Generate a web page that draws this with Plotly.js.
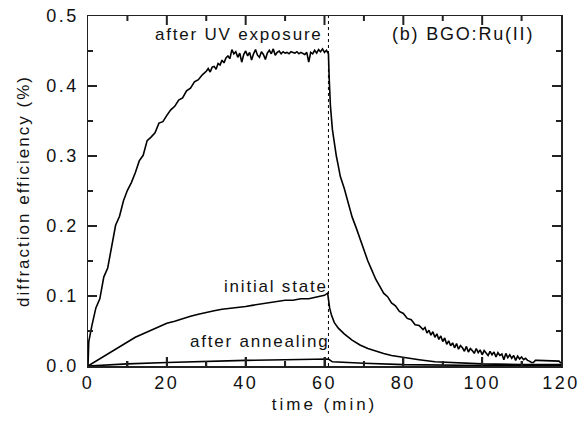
<!DOCTYPE html>
<html>
<head>
<meta charset="utf-8">
<script src="https://cdn.plot.ly/plotly-3.0.1.min.js"></script>
<style>
html,body{margin:0;padding:0;background:#fff;}
.xtick text,.ytick text{letter-spacing:2.5px;}
text.xtitle{letter-spacing:3px;}
text.ytitle{letter-spacing:2px;}
text.annotation-text{letter-spacing:1.8px;}
</style>
</head>
<body>
<div id="chart" style="width:584px;height:421px;"></div>
<script>
// after UV exposure
const tUV = [0,0.2,1,2,3,4,5,6,7,8,9,10,11,12,13,14,15,16,17,18,19,20,21,22,23,24,25,26,27,28,29,
  30,30.5,31,31.5,32,32.5,33,33.5,34,34.5,35,35.5,36,36.5,37,37.5,38,38.5,39,39.5,40,40.5,41,41.5,42,42.5,43,43.5,44,44.5,
  45,45.5,46,46.5,47,47.5,48,48.5,49,49.5,50,50.5,51,51.5,52,52.5,53,53.5,54,54.5,55,55.5,56,56.5,57,57.5,58,58.5,59,59.5,60,60.5,61,
  61.2,61.5,62,62.5,63,63.5,64,65,66,67,68,69,70,71,72,73,74,75,76,77,78,79,80,81,82,83,84,
  85,85.5,86,86.5,87,87.5,88,88.5,89,89.5,90,90.5,91,91.5,92,92.5,93,93.5,94,94.5,95,95.5,96,96.5,97,97.5,98,98.5,99,99.5,
  100,100.5,101,101.5,102,102.5,103,103.5,104,104.5,105,105.5,106,106.5,107,107.5,108,108.5,109,109.5,110,110.5,111,111.5,112,112.5,113,113.5,
  114,115,116,117,118,119,119.5,120];
const vUV = [0.000,0.035,0.058,0.083,0.096,0.127,0.140,0.168,0.201,0.214,0.236,0.251,0.262,0.276,0.293,0.301,0.322,0.327,0.333,0.347,0.349,0.358,0.366,0.371,0.380,0.383,0.393,0.397,0.406,0.409,0.416,
  0.421,0.425,0.420,0.427,0.428,0.424,0.432,0.430,0.437,0.433,0.440,0.443,0.439,0.452,0.446,0.449,0.441,0.447,0.434,0.445,0.450,0.443,0.448,0.437,0.446,0.452,0.444,0.441,0.449,0.445,
  0.438,0.447,0.451,0.446,0.453,0.444,0.448,0.450,0.446,0.449,0.447,0.448,0.446,0.449,0.448,0.447,0.449,0.446,0.448,0.447,0.445,0.448,0.434,0.448,0.446,0.451,0.447,0.452,0.449,0.453,0.448,0.451,0.446,
  0.410,0.372,0.338,0.318,0.300,0.286,0.271,0.254,0.232,0.213,0.198,0.181,0.166,0.150,0.137,0.124,0.114,0.104,0.099,0.090,0.086,0.078,0.075,0.068,0.066,0.059,0.058,
  0.052,0.055,0.047,0.051,0.044,0.049,0.041,0.046,0.038,0.043,0.035,0.040,0.031,0.036,0.029,0.033,0.026,0.032,0.024,0.029,0.026,0.021,0.028,0.020,0.025,0.022,0.018,0.025,0.019,0.023,
  0.016,0.022,0.018,0.015,0.021,0.016,0.020,0.013,0.019,0.015,0.017,0.009,0.018,0.012,0.016,0.011,0.015,0.008,0.014,0.010,0.013,0.009,0.011,0.008,0.007,0.005,0.005,0.008,
  0.008,0.008,0.008,0.008,0.008,0.008,0.007,0.004];

// initial state
const tInit = [0,2,4,6,8,10,12,14,16,18,20,22,24,26,28,30,32,34,36,38,40,42,44,46,48,50,52,54,56,58,60,60.8,
  61,61.3,61.8,62.5,63.5,65,67,69,71,73,75,77,80,84,88,92,96,100,110,120];
const vInit = [0.000,0.007,0.014,0.021,0.028,0.035,0.041,0.046,0.051,0.056,0.061,0.064,0.068,0.071,0.074,0.077,0.079,0.081,0.082,0.084,0.085,0.087,0.089,0.090,0.093,0.094,0.094,0.096,0.096,0.099,0.101,0.104,
  0.094,0.083,0.072,0.062,0.054,0.046,0.037,0.030,0.025,0.021,0.018,0.015,0.012,0.009,0.006,0.005,0.004,0.003,0.002,0.002];

// after annealing
const tAnn = [0,5,10,20,30,40,50,60,61,62,65,70,80,90,100,120];
const vAnn = [0.000,0.002,0.003,0.005,0.007,0.008,0.009,0.0095,0.010,0.006,0.005,0.004,0.002,0.001,0.0007,0.0005];

const exposureEnd = 61;
const xRange = [0,120];
const yRange = [0,0.5];
const xMajorTicks = [20,40,60,80,100];
const xMinorTicks = [10,30,50,70,90,110];
const yMajorTicks = [0.1,0.2,0.3,0.4];
const yMinorTicks = [0.05,0.15,0.25,0.35,0.45];
const labels = ['after UV exposure','initial state','after annealing','(b) BGO:Ru(II)'];

const fam = 'Liberation Sans, Arial, sans-serif';
const font = {family:fam, size:17, color:'#111'};
const bigFont = {family:fam, size:18, color:'#111'};
const tickFont = {family:fam, size:18, color:'#111'};
const line = {color:'#000', width:1.6};
const tickLine = {color:'#222', width:2};
const MAJ = 9, MIN = 5;

const traces = [
  {x:tUV, y:vUV, mode:'lines', line:line, hoverinfo:'skip'},
  {x:tInit, y:vInit, mode:'lines', line:line, hoverinfo:'skip'},
  {x:tAnn, y:vAnn, mode:'lines', line:line, hoverinfo:'skip'}
];

// inside tick marks on the top and right sides (and a fallback on bottom/left), placed through the axes
const tickShapes = [];
function xTicks(vals, len){
  vals.forEach(v => {
    tickShapes.push({type:'line', layer:'above', xref:'x', yref:'paper', ysizemode:'pixel', yanchor:0, x0:v, x1:v, y0:0, y1:len, line:tickLine});
    tickShapes.push({type:'line', layer:'above', xref:'x', yref:'paper', ysizemode:'pixel', yanchor:1, x0:v, x1:v, y0:0, y1:-len, line:tickLine});
  });
}
function yTicks(vals, len){
  vals.forEach(v => {
    tickShapes.push({type:'line', layer:'above', yref:'y', xref:'paper', xsizemode:'pixel', xanchor:0, y0:v, y1:v, x0:0, x1:len, line:tickLine});
    tickShapes.push({type:'line', layer:'above', yref:'y', xref:'paper', xsizemode:'pixel', xanchor:1, y0:v, y1:v, x0:0, x1:-len, line:tickLine});
  });
}
xTicks(xMajorTicks, MAJ); xTicks(xMinorTicks, MIN);
yTicks(yMajorTicks, MAJ); yTicks(yMinorTicks, MIN);

const layout = {
  width:584, height:421,
  margin:{l:88, r:23, t:16, b:55},
  showlegend:false,
  paper_bgcolor:'#fff', plot_bgcolor:'#fff',
  font:font,
  xaxis:{
    range:xRange, dtick:20,
    ticks:'inside', ticklen:MAJ, tickwidth:2, tickcolor:'#222',
    minor:{ticks:'inside', ticklen:MIN, tickwidth:2, tickcolor:'#222', dtick:10},
    showline:true, linecolor:'#222', linewidth:1.5, mirror:true,
    showgrid:false, zeroline:false, tickfont:tickFont,
    title:{text:'time (min)', font:font, standoff:6}
  },
  yaxis:{
    range:yRange, dtick:0.1, tickformat:'.1f',
    ticks:'inside', ticklen:MAJ, tickwidth:2, tickcolor:'#222',
    minor:{ticks:'inside', ticklen:MIN, tickwidth:2, tickcolor:'#222', dtick:0.05},
    showline:true, linecolor:'#222', linewidth:1.5, mirror:true,
    showgrid:false, zeroline:false, tickfont:tickFont, ticklabelstandoff:4,
    title:{text:'diffraction efficiency (%)', font:font, standoff:12}
  },
  shapes:[{type:'line', xref:'x', yref:'y', x0:exposureEnd, x1:exposureEnd, y0:yRange[0], y1:yRange[1],
    line:{color:'#000', width:1, dash:'dot'}}].concat(tickShapes),
  annotations:[
    {x:38.2, y:0.474, xref:'x', yref:'y', text:labels[0], showarrow:false, font:font},
    {x:47.7, y:0.1136, xref:'x', yref:'y', text:labels[1], showarrow:false, font:font},
    {x:43.4, y:0.0343, xref:'x', yref:'y', text:labels[2], showarrow:false, font:font},
    {x:95.2, y:0.474, xref:'x', yref:'y', text:labels[3], showarrow:false, font:bigFont}
  ]
};

Plotly.newPlot('chart', traces, layout, {displayModeBar:false, staticPlot:true});
</script>
</body>
</html>
